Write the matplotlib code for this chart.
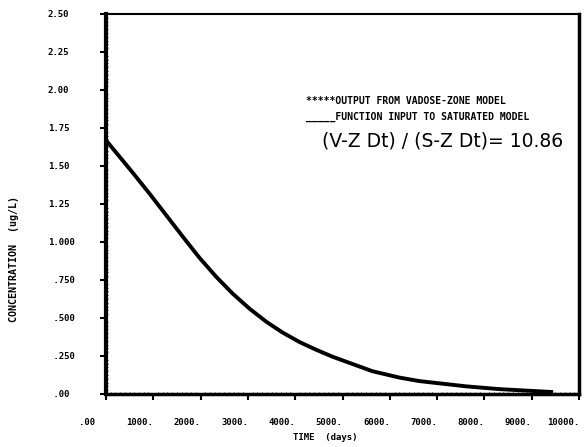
import numpy as np
import matplotlib.pyplot as plt
from matplotlib.ticker import MultipleLocator

days = [0, 570, 930, 1290, 1625, 1980, 2340, 2680, 3040, 3400, 3730, 4090, 4450,
        4790, 5630, 6200, 6620, 7620, 8310, 9370, 9450]
conc = [1.67, 1.455, 1.315, 1.17, 1.035, 0.895, 0.768, 0.66, 0.56, 0.473, 0.405, 0.342, 0.29,
        0.245, 0.15, 0.108, 0.085, 0.05, 0.032, 0.014, 0.013]

xticks = [0, 1000, 2000, 3000, 4000, 5000, 6000, 7000, 8000, 9000, 10000]
xlabels = ['.00  ', '1000.', '2000.', '3000.', '4000.', '5000.', '6000.', '7000.', '8000.', '9000.', '10000.']
yticks = [0, 0.25, 0.5, 0.75, 1.0, 1.25, 1.5, 1.75, 2.0, 2.25, 2.5]
ylabels = [' .00', ' .250', ' .500', ' .750', '1.000', '1.25', '1.50', '1.75', '2.00', '2.25', '2.50']

mono = 'DejaVu Sans Mono'

fig = plt.figure(figsize=(5.85, 4.47), dpi=100)
ax = fig.add_axes([0.181, 0.1186, 0.809, 0.8501])

ax.plot(days, conc, color='black', lw=2.8, solid_capstyle='butt', solid_joinstyle='round')

ax.set_xlim(0, 10000)
ax.set_ylim(0, 2.5)
ax.set_xticks(xticks)
ax.set_xticklabels(xlabels, fontsize=6.5, fontweight='bold', family=mono, ha='right')
ax.set_yticks(yticks)
ax.set_yticklabels(ylabels, fontsize=6.5, fontweight='bold', family=mono, ha='left')
ax.xaxis.set_minor_locator(MultipleLocator(100))
ax.yaxis.set_minor_locator(MultipleLocator(0.025))
ax.tick_params(which='major', direction='out', length=4, width=1.5)
ax.tick_params(which='minor', direction='in', length=1.5, width=0.6)
ax.tick_params(axis='x', which='major', pad=13)
ax.tick_params(axis='y', which='major', pad=37.7)

ax.spines['left'].set_linewidth(3)
ax.spines['bottom'].set_linewidth(2.5)
ax.spines['right'].set_linewidth(2.5)
ax.spines['top'].set_linewidth(1.5)

ax.text(0.422, 0.77, '*****OUTPUT FROM VADOSE-ZONE MODEL', transform=ax.transAxes,
        fontsize=7, fontweight='bold', family=mono, va='center')
ax.text(0.422, 0.728, '_____FUNCTION INPUT TO SATURATED MODEL', transform=ax.transAxes,
        fontsize=7, fontweight='bold', family=mono, va='center')
ax.text(0.456, 0.665, '(V-Z Dt) / (S-Z Dt)= 10.86', transform=ax.transAxes, fontsize=13.5,
        va='center')

fig.text(0.556, 0.022, 'TIME  (days)', ha='center', va='center', fontsize=6.5,
         fontweight='bold', family=mono)
fig.text(0.024, 0.42, 'CONCENTRATION  (ug/L)', rotation=90, va='center', ha='center',
         fontsize=7.2, fontweight='bold', family=mono)

fig.savefig('out.png', dpi=100)
